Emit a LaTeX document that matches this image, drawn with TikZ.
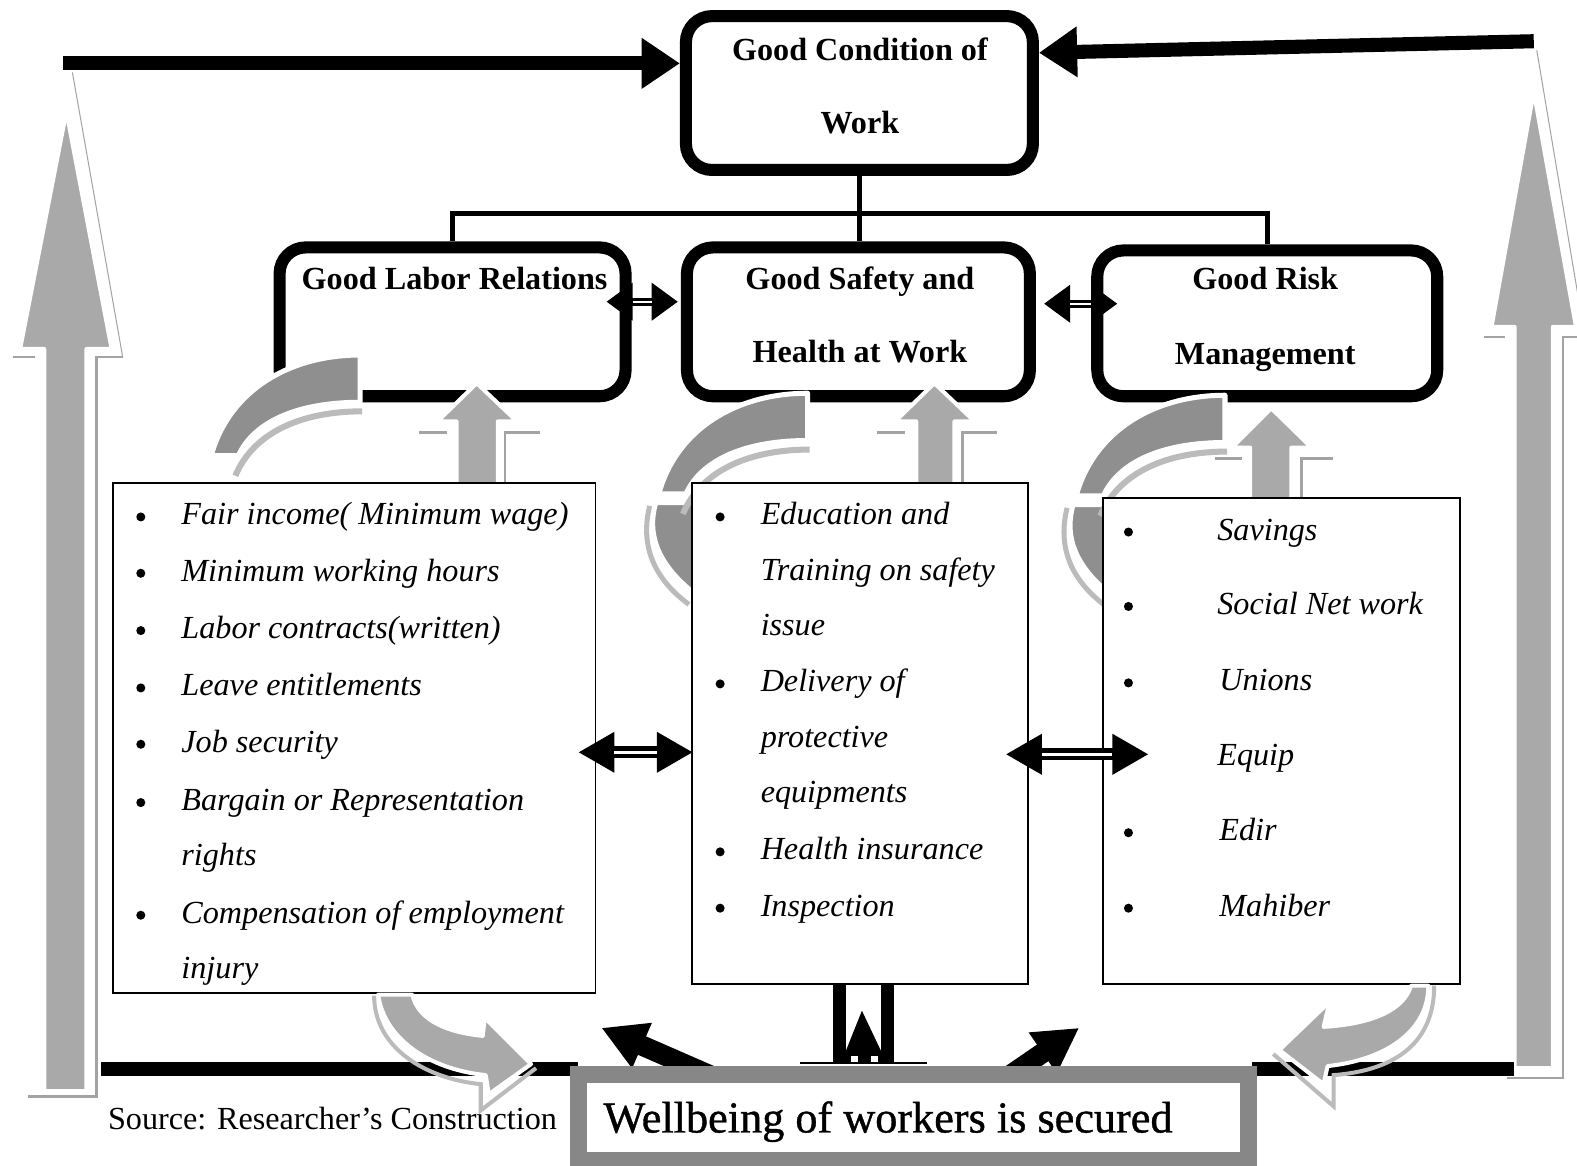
\documentclass[tikz,border=0pt]{standalone}
\usepackage{fontspec}
\setmainfont{Liberation Serif}
\newfontfamily\wellfont[FakeBold=0.9]{Liberation Serif}
\usetikzlibrary{calc,arrows.meta}
\definecolor{agray}{HTML}{A9A9A9}
\definecolor{bandD}{HTML}{8F8F8F}
\definecolor{bandL}{HTML}{BBBBBB}
\definecolor{shgray}{HTML}{A3A3A3}
\definecolor{wgray}{HTML}{878787}
\newcommand{\ribbontop}[2]{%
 \begin{scope}[shift={(#1,#2)}]
  \draw[bandL, line width=3pt] (2,56) .. controls (-55,56) and (-105,75) .. (-124,120);
  \filldraw[fill=bandD, draw=white, line width=2.5pt, line join=round] (0,0) .. controls (-70,0) and (-130,35) .. (-148,100) -- (-121,100) .. controls (-105,65) and (-60,47) .. (0,47) -- cycle;
 \end{scope}}
\newcommand{\ribbonlow}[2]{%
 \begin{scope}[shift={(#1,#2)}]
  \filldraw[fill=bandD, draw=white, line width=1.2pt] (-150,110) .. controls (-158,138) and (-150,168) .. (-112,198) -- (-95,198) -- (-95,110) -- cycle;
  \draw[bandL, line width=2.5pt] (-157,112) .. controls (-166,148) and (-156,182) .. (-118,210);
 \end{scope}}
\begin{document}
\begin{tikzpicture}[x=0.5pt,y=-0.5pt,
 bigbox/.style={draw=black, line width=6pt, rounded corners=13pt, fill=white, inner sep=0pt},
 listbox/.style={draw=black, line width=0.9pt, fill=white, inner sep=0pt},
 hd/.style={font=\fontsize{16}{19}\selectfont\bfseries, anchor=base, inner sep=0pt},
 li/.style={font=\fontsize{16}{19}\selectfont\itshape, anchor=base west, inner sep=0pt},
 tree/.style={line width=2.5pt},
 thickarr/.style={line width=7pt, -{Triangle[length=19pt,width=24pt]}},
 dblA/.style={line width=4pt, {Triangle[length=13pt,width=18pt]}-{Triangle[length=13pt,width=18pt]}},
 dblAw/.style={white, line width=1.2pt, shorten <=13pt, shorten >=13pt},
 dblC/.style={line width=6pt, {Triangle[length=18pt,width=19pt]}-{Triangle[length=18pt,width=19pt]}},
 dblCw/.style={white, line width=1.6pt, shorten <=18pt, shorten >=18pt},
 diagarr/.style={line width=10pt, -{Triangle[length=22pt,width=23pt]}},
 garr/.style={fill=agray, draw=white, line width=2pt, line join=round},
 shline/.style={draw=shgray, line width=1.3pt},
 shthin/.style={draw=shgray, line width=0.5pt},
 cshade/.style={draw=bandL, line width=2pt},
]
\useasboundingbox (0,0) rectangle (1568,1159);
\fill[white] (0,0) rectangle (1568,1159);

% big side arrows
\draw[shthin] (72,72) -- (122,355);
\draw[shline] (13,355) -- (35,355);
\draw[shline] (122,355) -- (96,355) -- (96,1090) -- (28,1090);
\filldraw[garr] (66,111) -- (111,347) -- (86,347) -- (86,1085) -- (44,1085) -- (44,347) -- (20,347) -- cycle;
\draw[shthin] (1528,50) -- (1570,300);
\draw[shline] (1476,335) -- (1496,335);
\draw[shline] (1570,335) -- (1554,335) -- (1554,1072) -- (1498,1072);
\filldraw[garr] (1525,91) -- (1567,325) -- (1544,325) -- (1544,1062) -- (1506,1062) -- (1506,325) -- (1483,325) -- cycle;

% top and level-2 boxes
\node[bigbox, minimum width=172.5pt, minimum height=76.5pt] (top) at (854.5,92.5) {};
\node[bigbox, minimum width=172pt, minimum height=74pt] (labor) at (450,320) {};
\node[bigbox, minimum width=170.5pt, minimum height=74pt] (safety) at (853.5,320) {};
\node[bigbox, minimum width=169pt, minimum height=72.5pt] (risk) at (1260,321.5) {};
\node[hd] (t1) at (855,60) {Good Condition of};
\node[hd] (t2) at (855,133) {Work};
\node[hd] (t3) at (452,288) {Good Labor Relations};
\node[hd] (t4) at (855,288) {Good Safety and};
\node[hd] (t5) at (855,360) {Health at Work};
\node[hd] (t6) at (1258,288) {Good Risk};
\node[hd] (t7) at (1258,362) {Management};

% tree
\coordinate (tj) at (854.5,212);
\draw[tree] (top.south) -- (tj);
\draw[tree] (labor.north) |- (tj) -| (risk.north);
\draw[tree] (tj) -- (tj |- safety.north);

% top long arrows
\coordinate (tlA) at (63,63);
\coordinate (trA) at (1525,41);
\draw[thickarr] (tlA) -- (top.west |- tlA);
\draw[thickarr] (trA) -- ($(top.east)+(0,-40)$);

% level-2 double arrows
\coordinate (a1) at ($(labor.east)+(-25,-20)$);
\coordinate (a2) at ($(safety.west)+(-3,-20)$);
\coordinate (a3) at ($(safety.east)+(8,-18)$);
\coordinate (a4) at ($(risk.west)+(26,-19.5)$);
\draw[dblA] (a1) -- (a2); \draw[dblAw] (a1) -- (a2);
\draw[dblA] (a3) -- (a4); \draw[dblAw] (a3) -- (a4);

% curved ribbons
\ribbonlow{803}{391}
\ribbonlow{1218}{393}
\ribbontop{358}{353}
\ribbontop{803}{391}
\ribbontop{1218}{393}

% up arrows
\draw[shline] (417,430) -- (444,430);
\draw[shline] (537,430) -- (502,430) -- (502,482);
\filldraw[garr] (474,381) -- (514,419) -- (495,419) -- (495,482) -- (454,482) -- (454,419) -- (435,419) -- cycle;
\draw[shline] (872,430) -- (900,430);
\draw[shline] (991,430) -- (957,430) -- (957,482);
\filldraw[garr] (929,381) -- (969,419) -- (949,419) -- (949,482) -- (911,482) -- (911,419) -- (890,419) -- cycle;
\draw[shline] (1208,456) -- (1235,456);
\draw[shline] (1325,456) -- (1294,456) -- (1294,497);
\filldraw[garr] (1264,406) -- (1304,445) -- (1284,445) -- (1284,497) -- (1243,497) -- (1243,445) -- (1225,445) -- cycle;

% list boxes
\node[listbox, minimum width=240pt, minimum height=253.5pt] (lbox) at (352,733.5) {};
\node[listbox, minimum width=167pt, minimum height=249pt] (mbox) at (855,729) {};
\node[listbox, minimum width=177.5pt, minimum height=241.5pt] (rbox) at (1274.5,736.5) {};

\node[li] (l1) at (180,522) {Fair income( Minimum wage)};
\node[li] (l2) at (180,578) {Minimum working hours};
\node[li] (l3) at (180,635) {Labor contracts(written)};
\node[li] (l4) at (180,692) {Leave entitlements};
\node[li] (l5) at (180,748) {Job security};
\node[li] (l6) at (180,806) {Bargain or Representation};
\node[li] (l7) at (180,861) {rights};
\node[li] (l8) at (180,918) {Compensation of employment};
\node[li] (l9) at (180,973) {injury};
\foreach \yy in {512,568,625,682,738,796,908} \fill (140,\yy+2) circle[radius=4.5];

\node[li] (m1) at (756,522) {Education and};
\node[li] (m2) at (756,577) {Training on safety};
\node[li] (m3) at (756,632) {issue};
\node[li] (m4) at (756,688) {Delivery of};
\node[li] (m5) at (756,743) {protective};
\node[li] (m6) at (756,798) {equipments};
\node[li] (m7) at (756,855) {Health insurance};
\node[li] (m8) at (756,911) {Inspection};
\foreach \yy in {512,678,845,901} \fill (716,\yy+2) circle[radius=4.5];

\node[li] (r1) at (1210,537) {Savings};
\node[li] (r2) at (1210,611) {Social Net work};
\node[li] (r3) at (1212,687) {Unions};
\node[li] (r4) at (1210,761) {Equip};
\node[li] (r5) at (1212,836) {Edir};
\node[li] (r6) at (1212,911) {Mahiber};
\foreach \yy in {527,601,677,751,826,901} \fill (1122,\yy+2) circle[radius=4.5];

% list double arrows
\coordinate (b1) at ($(lbox.east)+(-18,14.5)$);
\coordinate (b2) at ($(mbox.west)+(2,19)$);
\coordinate (b3) at ($(mbox.east)+(-23,21)$);
\coordinate (b4) at ($(rbox.west)+(46,13.5)$);
\draw[dblC] (b1) -- (b2); \draw[dblCw] (b1) -- (b2);
\draw[dblC] (b3) -- (b4); \draw[dblCw] (b3) -- (b4);

% bottom black lines
\fill (100,1056) rectangle (575,1070);
\fill (1245,1056) rectangle (1505,1070);

% central up arrow between bars
\fill (828,978) rectangle (841,1058);
\fill (876,978) rectangle (889,1058);
\fill (857,1005) -- (876,1045) -- (841,1045) -- cycle;
\fill (841,1045) rectangle (876,1058);
\fill[white] (846,1050) rectangle (853,1058);
\fill[white] (866,1050) rectangle (873,1058);
\draw[line width=1.2pt] (795,1057) -- (922,1057);

% diagonal arrows
\coordinate (dl1) at (708,1070);
\coordinate (dl2) at (598,1022);
\coordinate (dr1) at (1003,1070);
\coordinate (dr2) at (1073,1022);
\draw[diagarr] (dl1) -- (dl2);
\draw[diagarr] (dr1) -- (dr2);

% bottom curved arrows
\draw[cshade] (372,990) .. controls (372,1040) and (420,1072) .. (478,1078) -- (478,1104) -- (533,1062);
\filldraw[garr] (410,989) .. controls (415,1012) and (440,1026) .. (480,1030) -- (482,1012) -- (528,1058) -- (486,1088) -- (483,1069) .. controls (425,1063) and (382,1032) .. (376,989) -- cycle;
\draw[cshade] (1426,980) .. controls (1426,1035) and (1390,1064) .. (1326,1069) -- (1326,1100) -- (1266,1048);
\filldraw[garr] (1403,980) .. controls (1396,1004) and (1365,1018) .. (1316,1021) -- (1322,996) -- (1272,1044) -- (1316,1078) -- (1320,1060) .. controls (1385,1053) and (1421,1020) .. (1420,980) -- cycle;

% wellbeing box
\node[draw=wgray, line width=8.5pt, fill=white, minimum width=333pt, minimum height=42.5pt, inner sep=0pt] (well) at (908.5,1111) {};
\node[font=\fontsize{22}{26}\selectfont\wellfont, anchor=base, inner sep=0pt] (wtext) at (883,1126) {Wellbeing of workers is secured};
\node[font=\fontsize{16}{19}\selectfont, anchor=base west, inner sep=0pt] (src) at (107,1123) {Source: Researcher’s Construction};
\end{tikzpicture}
\end{document}
